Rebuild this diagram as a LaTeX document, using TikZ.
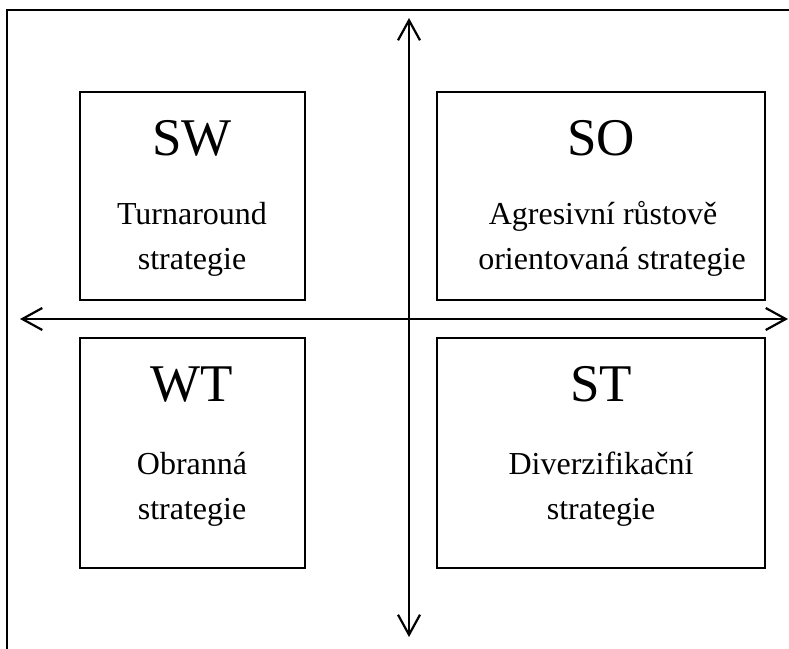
\documentclass[tikz,border=0pt]{standalone}
\usepackage{fontspec}
\setmainfont{Liberation Serif}
\usetikzlibrary{arrows.meta}
\begin{document}
\begin{tikzpicture}[x=1pt,y=-1pt,
  quad/.style={draw,line width=2.6pt},
  axis/.style={line width=2.2pt,{Straight Barb[length=20pt,width=22pt,line width=2.2pt]}-{Straight Barb[length=20pt,width=22pt,line width=2.2pt]}},
  title/.style={anchor=base,font=\fontsize{53}{60}\selectfont,inner sep=0pt},
  body/.style={anchor=base,font=\fontsize{32}{38}\selectfont,inner sep=0pt}]
\useasboundingbox (0,0) rectangle (789,648);
% outer frame (only top and left visible)
\coordinate (fa) at (7,700);
\coordinate (fb) at (7,10);
\coordinate (fc) at (800,10);
\draw[line width=2pt] (fa) -- (fb) -- (fc);
% boxes
\draw[quad] (80,92) rectangle (305,300) node[pos=0] (swbox) {};
\draw[quad] (437,92) rectangle (765,300) node[pos=0] (sobox) {};
\draw[quad] (80,338) rectangle (305,568) node[pos=0] (wtbox) {};
\draw[quad] (437,338) rectangle (765,568) node[pos=0] (stbox) {};
% texts
\node[title] (sw) at (192,155) {SW};
\node[body] (sw1) at (192,224) {Turnaround};
\node[body] (sw2) at (192,269) {strategie};
\node[title] (so) at (601,155) {SO};
\node[body] (so1) at (603,224) {Agresivní růstově};
\node[body] (so2) at (612,269) {orientovaná strategie};
\node[title] (wt) at (192,401) {WT};
\node[body] (wt1) at (192,474) {Obranná};
\node[body] (wt2) at (192,519) {strategie};
\node[title] (st) at (601,401) {ST};
\node[body] (st1) at (601,474) {Diverzifikační};
\node[body] (st2) at (601,519) {strategie};
% axes
\coordinate (vt) at (409,18);
\coordinate (vb) at (409,637);
\coordinate (hl) at (20,319);
\coordinate (hr) at (788,319);
\draw[axis] (vt) -- (vb);
\draw[axis] (hl) -- (hr);
\end{tikzpicture}
\end{document}
